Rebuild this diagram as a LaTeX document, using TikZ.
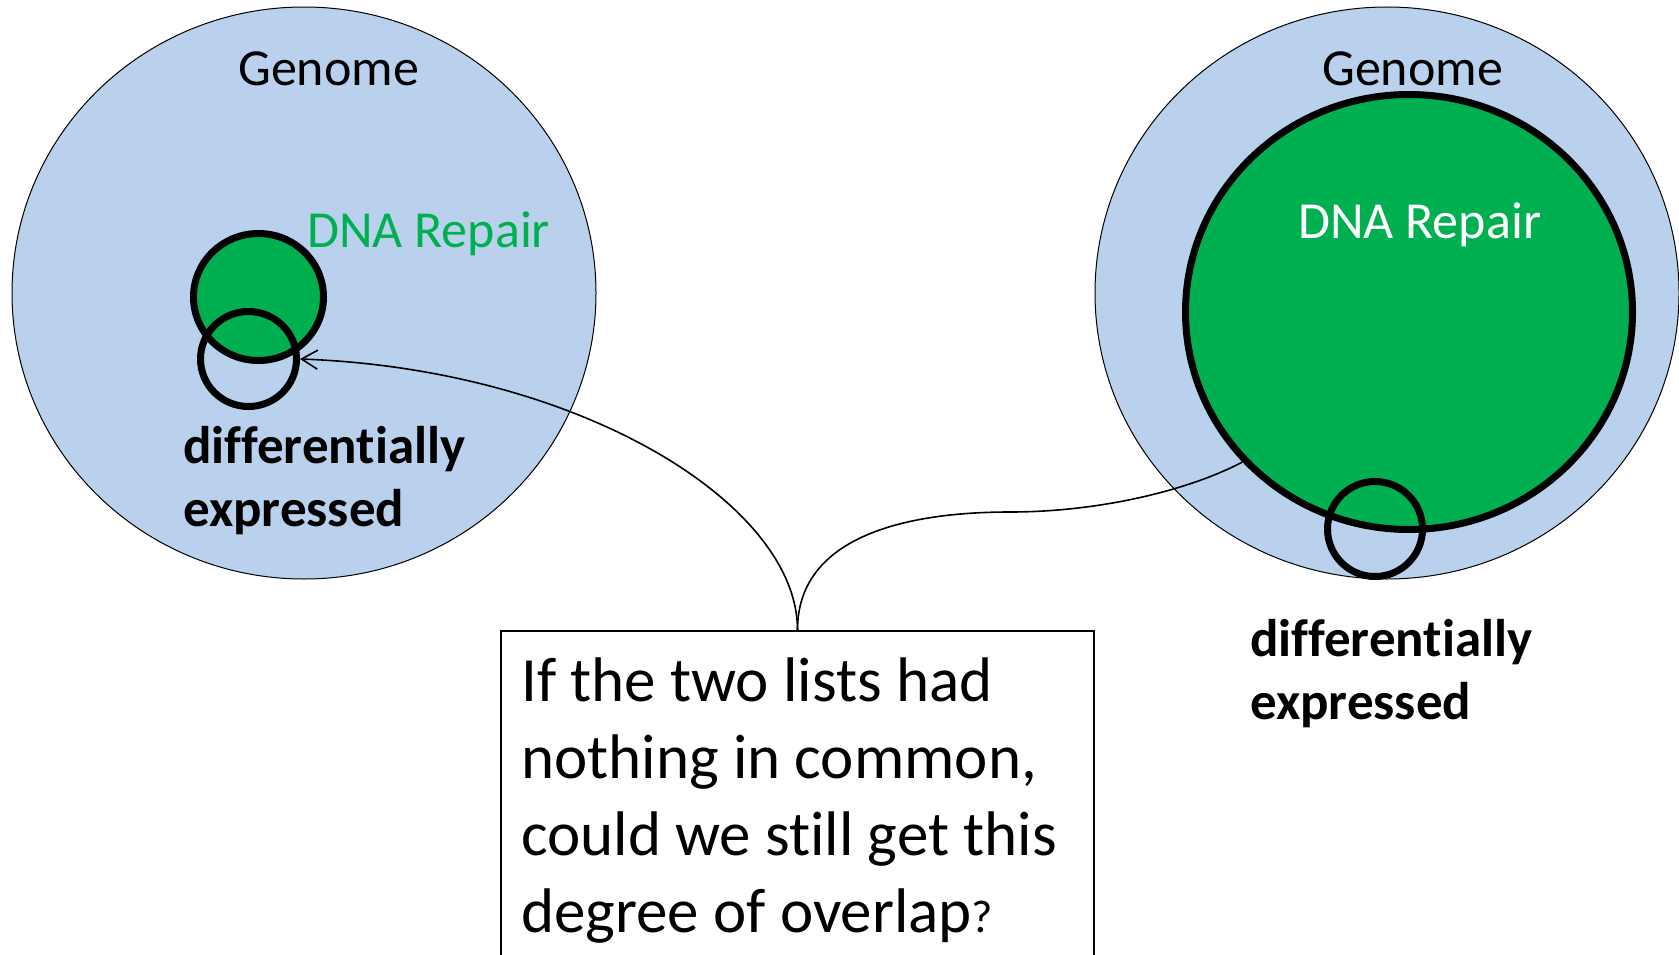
\documentclass[tikz,border=0pt]{standalone}
\usepackage{fontspec}
\setmainfont{Carlito}[Ligatures=NoCommon]
\usetikzlibrary{arrows.meta,shapes.geometric}
\definecolor{genomeblue}{RGB}{185,209,236}
\definecolor{repairgreen}{RGB}{0,176,80}
\tikzset{
  genome/.style={ellipse, draw=black, line width=1pt, fill=genomeblue, inner sep=0pt,
                 minimum width=584pt, minimum height=572pt},
  repair/.style={ellipse, draw=black, line width=7pt, fill=repairgreen, inner sep=0pt},
  diffex/.style={ellipse, draw=black, line width=7pt, inner sep=0pt},
  lbl/.style={inner sep=0pt, anchor=base west, font=\fontsize{52}{63}\selectfont},
  boldlbl/.style={inner sep=0pt, anchor=base west, text width=400pt, align=flush left,
                  font=\fontsize{53}{63}\selectfont\bfseries},
  qbox/.style={draw=black, line width=1.5pt, inner sep=0pt, anchor=north,
               minimum width=593pt, minimum height=420pt},
  qtext/.style={inner sep=0pt, anchor=base west, text width=570pt, align=flush left,
                font=\fontsize{63}{77}\selectfont},
  conn/.style={line width=1.6pt, draw=black},
}
\begin{document}
\begin{tikzpicture}[x=1pt,y=-1pt]
\useasboundingbox (0,0) rectangle (1679,955);
\clip (0,0) rectangle (1679,955);
% genomes
\node[genome] (lg) at (304,293) {};
\node[genome] (rgen) at (1387,293) {};
% DNA repair sets
\node[repair, minimum width=130pt, minimum height=127pt] (lr) at (258.5,297) {};
\node[repair, minimum width=447pt, minimum height=435pt] (rg) at (1409,312) {};
% differentially expressed sets
\node[diffex, minimum width=96pt, minimum height=95pt] (lde) at (248.5,359) {};
\node[diffex, minimum width=95pt, minimum height=95pt] (rde) at (1375,529) {};
% labels
\node[lbl] (lgt) at (238,86) {Genome};
\node[lbl] (rgt) at (1322,86) {Genome};
\node[lbl, text=repairgreen] (lrt) at (307,247) {DNA Repair};
\node[lbl, text=white] (rrt) at (1298,238) {DNA Repair};
\node[boldlbl] (ldet) at (183,463) {differentially\\expressed};
\node[boldlbl] (rdet) at (1250,656) {differentially\\expressed};
% question box
\node[qbox] (box) at (797.5,630) {};
\node[qtext] (q) at (521,701) {If the two lists had\\nothing in common,\\could we still get this\\degree of overlap{\fontsize{46}{77}\selectfont ?}};
% connectors
\coordinate (bend) at (1010,512);
\draw[conn, -{Straight Barb[length=16pt,width=19pt]}] (box.north) .. controls +(0,-126) and +(280,10) .. (lde.east);
\draw[conn] (box.north) .. controls +(0,-91) and +(-110,0) .. (bend) .. controls +(90,0) and +(-53,28) .. (rg.222);
\end{tikzpicture}
\end{document}
